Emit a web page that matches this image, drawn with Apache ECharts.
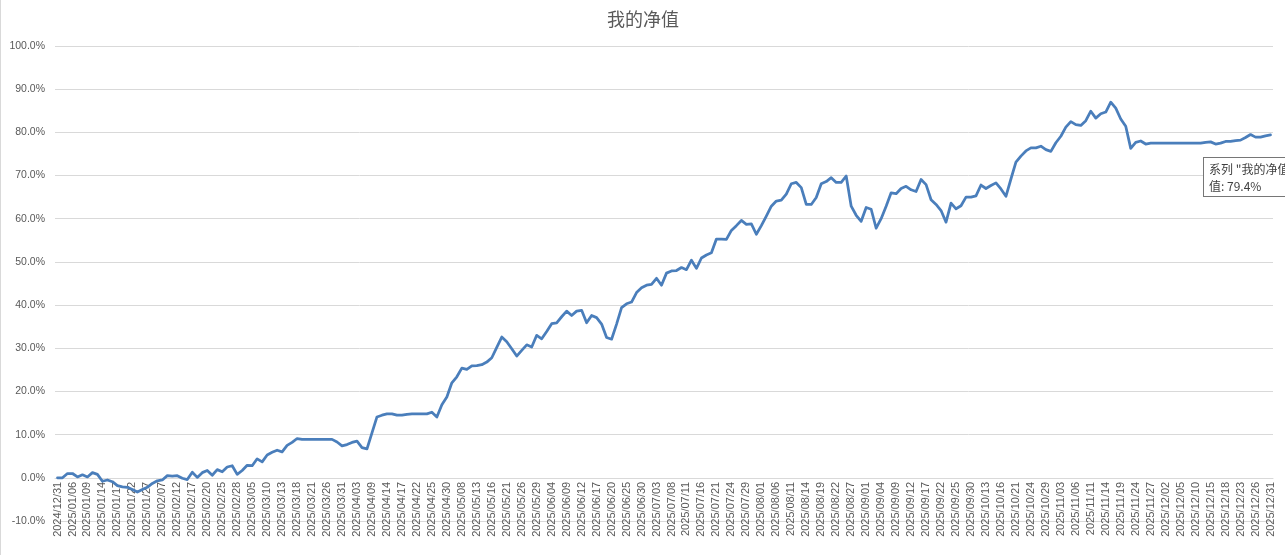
<!DOCTYPE html>
<html>
<head>
<meta charset="utf-8">
<title>我的净值</title>
<script src="https://cdn.jsdelivr.net/npm/echarts@6/dist/echarts.min.js"></script>
<style>
  html, body { margin: 0; padding: 0; background: #fff; overflow: hidden; }
  #chart {
    width: 1285px;
    height: 555px;
    box-sizing: border-box;
    border-left: 1px solid #d9d9d9;
    overflow: hidden;
  }
</style>
</head>
<body>
<div id="chart"></div>
<script>
// 交易日:2024/12/31 起,2025 全年(剔除周末和休市日)
const startDate = '2024/12/31'
const endDate = '2025/12/31'
const holidays = [
  '2025/01/01',
  '2025/01/28', '2025/01/29', '2025/01/30', '2025/01/31', '2025/02/03', '2025/02/04',
  '2025/04/04',
  '2025/05/01', '2025/05/02', '2025/05/05',
  '2025/06/02',
  '2025/10/01', '2025/10/02', '2025/10/03', '2025/10/06', '2025/10/07', '2025/10/08'
]

// 净值(%),按交易日顺序
const netValue = [
  0.0, 0.0, 1.0, 1.0, 0.2, 0.7, 0.2, 1.2, 0.8, -0.8,
  -0.5, -0.9, -1.8, -2.1, -2.2, -2.7, -3.3, -2.7, -2.2, -1.3,
  -0.7, -0.5, 0.5, 0.4, 0.5, -0.1, -0.4, 1.3, 0.1, 1.2,
  1.7, 0.6, 1.9, 1.4, 2.5, 2.8, 0.8, 1.7, 2.9, 2.8,
  4.4, 3.7, 5.3, 5.9, 6.4, 6.0, 7.5, 8.2, 9.1, 8.9,
  8.9, 8.9, 8.9, 8.9, 8.9, 8.9, 8.3, 7.4, 7.7, 8.2,
  8.5, 7.0, 6.7, 10.4, 14.1, 14.5, 14.8, 14.8, 14.5, 14.5,
  14.7, 14.8, 14.8, 14.8, 14.8, 15.2, 14.1, 16.9, 18.7, 22.0,
  23.4, 25.4, 25.1, 25.9, 26.0, 26.2, 26.8, 27.8, 30.2, 32.6,
  31.5, 29.9, 28.2, 29.5, 30.8, 30.3, 33.0, 32.2, 33.9, 35.7,
  35.9, 37.3, 38.6, 37.6, 38.6, 38.8, 35.9, 37.6, 37.1, 35.6,
  32.5, 32.1, 35.6, 39.4, 40.3, 40.7, 42.9, 44.0, 44.6, 44.8,
  46.2, 44.6, 47.4, 47.9, 48.0, 48.7, 48.2, 50.4, 48.5, 50.9,
  51.6, 52.1, 55.3, 55.3, 55.2, 57.3, 58.4, 59.6, 58.7, 58.8,
  56.4, 58.4, 60.6, 62.9, 64.1, 64.3, 65.7, 68.1, 68.4, 67.2,
  63.3, 63.3, 64.9, 68.1, 68.6, 69.5, 68.4, 68.4, 69.9, 62.9,
  60.8, 59.4, 62.6, 62.2, 57.8, 60.0, 62.9, 66.0, 65.8, 67.0,
  67.5, 66.7, 66.3, 69.1, 67.9, 64.4, 63.3, 61.9, 59.2, 63.6,
  62.3, 63.0, 65.0, 65.0, 65.3, 67.8, 67.0, 67.7, 68.3, 66.9,
  65.2, 69.2, 73.1, 74.5, 75.7, 76.4, 76.4, 76.8, 76.0, 75.6,
  77.6, 79.1, 81.2, 82.5, 81.8, 81.6, 82.7, 84.9, 83.3, 84.3,
  84.7, 87.0, 85.6, 83.1, 81.4, 76.3, 77.7, 78.0, 77.3, 77.5,
  77.5, 77.5, 77.5, 77.5, 77.5, 77.5, 77.5, 77.5, 77.5, 77.5,
  77.7, 77.8, 77.3, 77.5, 77.9, 77.9, 78.1, 78.2, 78.8, 79.5,
  78.9, 78.9, 79.2, 79.4
]

// y 轴刻度
const yMin = -10
const yMax = 100
const yStep = 10

const pad = (n) => String(n).padStart(2, '0')
const fmtDate = (d) => `${d.getFullYear()}/${pad(d.getMonth() + 1)}/${pad(d.getDate())}`

const buildTradeDays = () => {
  const list = []
  const d = new Date(startDate)
  const end = new Date(endDate)
  while (d <= end) {
    const day = d.getDay()
    const s = fmtDate(d)
    if (day !== 0 && day !== 6 && !holidays.includes(s)) list.push(s)
    d.setDate(d.getDate() + 1)
  }
  return list
}
const tradeDays = buildTradeDays()

const textColor = '#595959'
const gridColor = '#d9d9d9'
const lineColor = '#4a7ebb'

// 绘图区
const gridTop = 46
const gridBottom = 34
const chartHeight = 555
// x 轴放在 0% 处(和 Excel 一样,标签压在绘图区里)
const plotHeight = chartHeight - gridTop - gridBottom
const zeroOffset = -plotHeight * (0 - yMin) / (yMax - yMin)

const myChart = echarts.init(document.getElementById('chart'))

const option = {
  animation: false,
  title: {
    text: '我的净值',
    left: 'center',
    top: 5,
    textStyle: {
      fontFamily: 'Noto Sans CJK SC',
      fontSize: 18,
      fontWeight: 'normal',
      color: textColor
    }
  },
  tooltip: {
    trigger: 'axis',
    triggerOn: 'none',
    alwaysShowContent: true,
    transitionDuration: 0,
    axisPointer: { type: 'none' },
    backgroundColor: '#fff',
    borderColor: '#767676',
    borderWidth: 1,
    padding: [2, 5],
    extraCssText: 'box-shadow:none;border-radius:0;line-height:17px;',
    textStyle: {
      fontFamily: 'Noto Sans CJK SC',
      fontSize: 12,
      color: '#404040'
    },
    position(point) {
      return [point[0] - 68, point[1] + 22]
    },
    formatter(params) {
      const p = params[0]
      return `系列 "${p.seriesName}" 点 "${p.name}"<br/>值: ${p.value.toFixed(1)}%`
    }
  },
  grid: {
    left: 54,
    right: 12,
    top: gridTop,
    bottom: gridBottom,
    containLabel: false,
    outerBoundsMode: 'none'
  },
  xAxis: {
    type: 'category',
    data: tradeDays,
    boundaryGap: true,
    offset: zeroOffset,
    axisLine: {
      show: true,
      onZero: false,
      lineStyle: { color: gridColor, width: 1 }
    },
    axisTick: { show: false },
    axisLabel: {
      interval: 2,
      rotate: 90,
      margin: 4,
      fontFamily: 'Liberation Sans',
      fontSize: 11,
      color: textColor
    },
    splitLine: { show: false }
  },
  yAxis: {
    type: 'value',
    min: yMin,
    max: yMax,
    interval: yStep,
    axisLine: { show: false },
    axisTick: { show: false },
    axisLabel: {
      margin: 10,
      fontFamily: 'Liberation Sans',
      fontSize: 10.5,
      color: textColor,
      formatter: (v) => v.toFixed(1) + '%'
    },
    splitLine: {
      show: true,
      lineStyle: { color: gridColor, width: 1 }
    }
  },
  series: [{
    name: '我的净值',
    type: 'line',
    data: netValue,
    symbol: 'none',
    showSymbol: false,
    lineStyle: { color: lineColor, width: 2.75, join: 'round', cap: 'round' },
    itemStyle: { color: lineColor },
    emphasis: { disabled: true }
  }]
}

myChart.setOption(option)

// 模拟鼠标停在最后一个点上的提示框
const showLastTip = () => {
  myChart.dispatchAction({ type: 'showTip', seriesIndex: 0, dataIndex: netValue.length - 1 })
}
showLastTip()
setTimeout(showLastTip, 50)
</script>
</body>
</html>
